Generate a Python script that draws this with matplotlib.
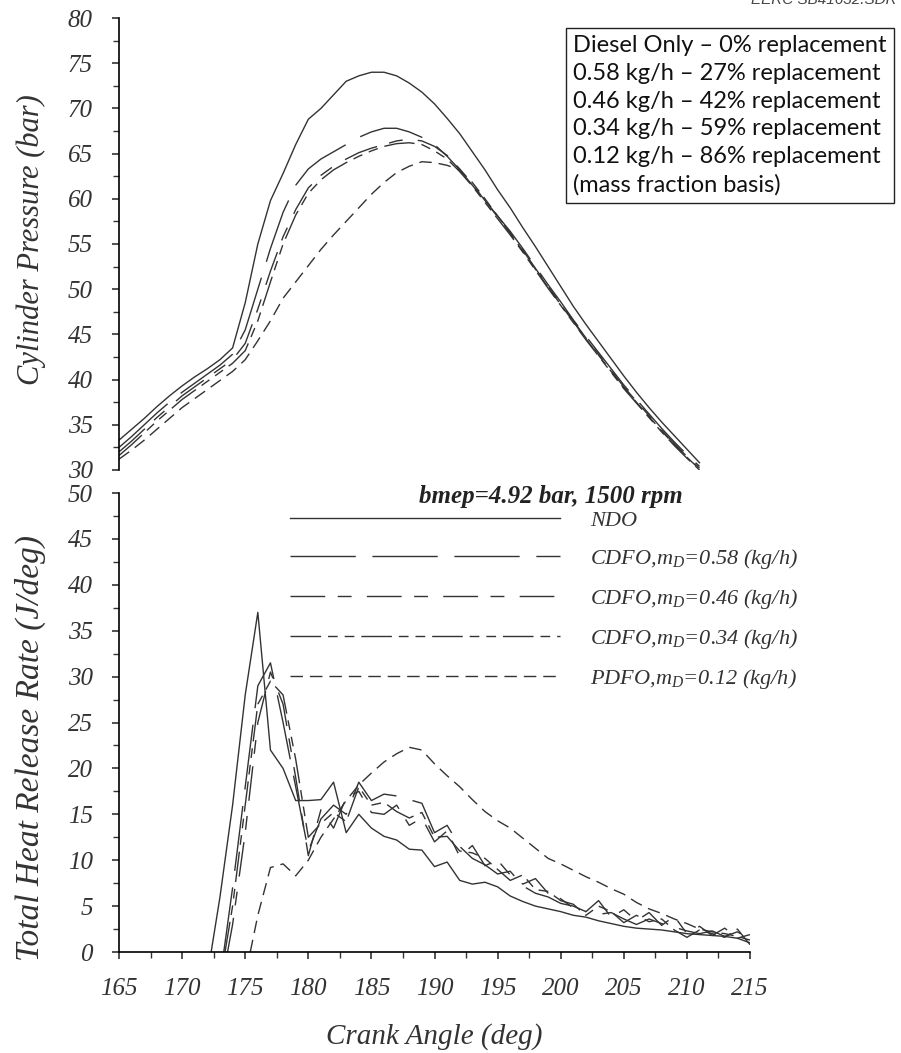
import matplotlib
matplotlib.use('Agg')
import matplotlib.pyplot as plt
import numpy as np
from matplotlib.ticker import MultipleLocator

plt.rcParams['font.family'] = ['Liberation Serif', 'DejaVu Serif']
plt.rcParams['mathtext.fontset'] = 'custom'
plt.rcParams['mathtext.it'] = 'Liberation Serif:italic'
plt.rcParams['mathtext.rm'] = 'Liberation Serif:italic'

INK = '#333333'

# cylinder pressure, 1 deg steps from 165 to 211 deg
ca_p = np.arange(165, 212)
p_ndo = [33.3, 34.5, 35.7, 37.0, 38.2, 39.3, 40.3, 41.2, 42.2, 43.5,
         48.5, 55.0, 59.8, 62.8, 66.0, 68.8, 70.0, 71.5, 73.0, 73.6,
         74.0, 74.0, 73.6, 72.8, 71.8, 70.5, 68.9, 67.2, 65.2, 63.2,
         61.0, 59.0, 56.8, 54.7, 52.5, 50.3, 48.1, 46.1, 44.2, 42.3,
         40.4, 38.6, 36.9, 35.3, 33.8, 32.3, 30.8]
p_058 = [32.5, 33.7, 35.0, 36.3, 37.5, 38.6, 39.6, 40.6, 41.6, 42.8,
         45.5, 50.0, 54.5, 58.5, 61.5, 63.3, 64.4, 65.2, 66.0, 66.8,
         67.4, 67.8, 67.8, 67.4, 66.8, 66.0, 64.7, 63.2, 61.5, 59.8,
         58.1, 56.4, 54.5, 52.5, 50.5, 48.6, 46.6, 44.8, 43.0, 41.2,
         39.4, 37.8, 36.2, 34.6, 33.1, 31.7, 30.4]
p_046 = [32.0, 33.2, 34.5, 35.8, 37.0, 38.2, 39.2, 40.2, 41.2, 42.2,
         44.0, 47.8, 52.0, 55.8, 58.8, 61.2, 62.6, 63.6, 64.4, 65.1,
         65.6, 66.0, 66.4, 66.6, 66.4, 65.8, 64.8, 63.3, 61.6, 59.8,
         58.0, 56.2, 54.3, 52.3, 50.3, 48.4, 46.5, 44.6, 42.8, 41.0,
         39.2, 37.6, 36.0, 34.4, 32.9, 31.5, 30.2]
p_034 = [31.6, 32.8, 34.1, 35.4, 36.6, 37.8, 38.8, 39.8, 40.8, 41.8,
         43.2, 46.5, 50.8, 55.0, 58.2, 60.6, 62.1, 63.2, 64.0, 64.7,
         65.3, 65.8, 66.1, 66.2, 66.0, 65.3, 64.4, 63.0, 61.4, 59.6,
         57.8, 56.0, 54.1, 52.1, 50.1, 48.2, 46.3, 44.4, 42.6, 40.8,
         39.0, 37.4, 35.8, 34.2, 32.7, 31.3, 30.0]
p_012 = [31.2, 32.2, 33.3, 34.5, 35.7, 36.9, 37.9, 38.9, 39.9, 40.9,
         42.2, 44.3, 46.5, 49.0, 50.8, 52.6, 54.4, 56.0, 57.5, 59.0,
         60.5, 61.8, 62.9, 63.6, 64.1, 64.0, 63.7, 63.2, 61.8, 60.0,
         58.1, 56.2, 54.2, 52.2, 50.2, 48.3, 46.4, 44.5, 42.7, 40.9,
         39.1, 37.5, 35.9, 34.3, 32.8, 31.4, 30.1]

# heat release rate (J/deg); first angle is the start of combustion
ca_hrr_ndo = [172.3] + list(range(173, 216))
hrr_ndo = [0, 6, 16, 28, 37, 22, 20, 16.5, 16.5, 16.6,
           18.5, 13, 15, 13.5, 12.6, 12.2, 11.2, 11.1, 9.3, 9.8,
           7.8, 7.4, 7.6, 7.1, 6.1, 5.5, 5.0, 4.7, 4.4, 4.0,
           3.8, 3.4, 3.1, 2.8, 2.6, 2.5, 2.4, 2.2, 2.0, 1.9,
           1.8, 1.7, 1.5, 1.0]
ca_hrr_058 = [173.3] + list(range(174, 216))
hrr_058 = [0, 7, 18, 29, 31.5, 25, 18, 11, 14.5, 16,
           15, 18.5, 16.5, 17.2, 17, 16.6, 16.2, 13, 13.8, 11.5,
           10.2, 9.5, 8.5, 8.8, 7.2, 6.4, 6.0, 5.3, 5.0, 4.4,
           4.1, 4.3, 3.6, 3.0, 3.6, 3.1, 2.7, 2.3, 2.0, 2.3,
           1.7, 2.2, 1.4]
ca_hrr_046 = [173.6] + list(range(174, 216))
hrr_046 = [0, 3, 13, 25, 30.5, 27, 19, 10.5, 15.5, 13.5,
           16.8, 17.5, 15.2, 15.0, 16.0, 13.8, 14.6, 12.0, 13.2, 10.4,
           11.6, 9.4, 10.0, 8.4, 7.4, 8.0, 6.4, 5.8, 4.8, 4.4,
           5.6, 3.8, 4.6, 3.4, 4.3, 2.9, 3.9, 2.0, 2.8, 1.8,
           2.6, 1.5, 1.9]
ca_hrr_034 = [173.4] + list(range(174, 216))
hrr_034 = [0, 5, 16, 27, 29.5, 28, 21, 12.5, 14.0, 15.2,
           14.2, 18.0, 16.0, 16.3, 15.3, 14.6, 15.2, 12.5, 12.6, 11.0,
           10.8, 10.2, 9.0, 7.8, 8.4, 6.8, 6.6, 5.6, 5.2, 4.0,
           5.0, 4.4, 3.2, 4.0, 3.3, 3.6, 2.4, 1.6, 2.4, 2.0,
           1.6, 2.5, 0.8]
ca_hrr_012 = [175.4] + list(range(176, 216))
hrr_012 = [0, 4, 9.2, 9.6, 8.3, 10.0, 12.5, 14.5, 16.5, 18.2,
           19.5, 20.7, 21.6, 22.3, 22.0, 20.5, 19.2, 18.0, 16.6, 15.3,
           14.3, 13.5, 12.4, 11.3, 10.2, 9.6, 8.9, 8.2, 7.6, 6.9,
           6.3, 5.4, 4.7, 4.2, 3.6, 3.1, 2.5, 2.2, 2.0, 1.7,
           1.3]

labels = ['NDO',
          'CDFO,$m_D$=0.58 (kg/h)',
          'CDFO,$m_D$=0.46 (kg/h)',
          'CDFO,$m_D$=0.34 (kg/h)',
          'PDFO,$m_D$=0.12 (kg/h)']
# dash patterns in points
styles = [None, (47, 12), (25, 9, 10, 11), (22, 5, 7, 5, 7, 5), (9, 5)]

replacement_lines = ['Diesel Only \u2013 0% replacement',
                     '0.58 kg/h \u2013 27% replacement',
                     '0.46 kg/h \u2013 42% replacement',
                     '0.34 kg/h \u2013 59% replacement',
                     '0.12 kg/h \u2013 86% replacement',
                     '(mass fraction basis)']

fig = plt.figure(figsize=(9.01, 10.53), dpi=100)
ax_p = fig.add_axes([0.1321, 0.5537, 0.7003, 0.4292])
ax_h = fig.add_axes([0.1321, 0.0959, 0.7003, 0.4359])

p_series = [p_ndo, p_058, p_046, p_034, p_012]
h_series = [(ca_hrr_ndo, hrr_ndo), (ca_hrr_058, hrr_058), (ca_hrr_046, hrr_046),
            (ca_hrr_034, hrr_034), (ca_hrr_012, hrr_012)]

for ys, (cx, hy), lab, ds in zip(p_series, h_series, labels, styles):
    kw = dict(color=INK, lw=1.0)
    if ds is not None:
        kw['dashes'] = ds
    ax_p.plot(ca_p, ys, **kw)
    ax_h.plot(cx, hy, label=lab, **kw)

tick_font = dict(family='Liberation Serif', style='italic', size=18)

for ax in (ax_p, ax_h):
    ax.set_xlim(165, 215)
    ax.spines['top'].set_visible(False)
    ax.spines['right'].set_visible(False)
    ax.spines['left'].set_linewidth(1.2)
    ax.spines['bottom'].set_linewidth(1.2)
    ax.yaxis.set_major_locator(MultipleLocator(5))
    ax.yaxis.set_minor_locator(MultipleLocator(2.5))
    ax.tick_params(axis='both', which='major', direction='out', length=5,
                   width=1.2, color=INK, pad=14)
    ax.tick_params(axis='both', which='minor', direction='out', length=4,
                   width=1.0, color=INK)
    for t in ax.get_yticklabels():
        t.set_fontproperties(tick_font)
        t.set_color(INK)

ax_p.set_ylim(30, 80)
ax_p.spines['bottom'].set_visible(False)
ax_p.set_xticks([])
ax_p.set_ylabel('Cylinder Pressure (bar)', fontsize=22, style='italic',
                color=INK)
ax_p.yaxis.set_label_coords(-0.115, 0.51)

ax_h.set_ylim(0, 50)
ax_h.xaxis.set_major_locator(MultipleLocator(5))
ax_h.xaxis.set_minor_locator(MultipleLocator(2.5))
for t in ax_h.get_xticklabels():
    t.set_fontproperties(tick_font)
    t.set_color(INK)
ax_h.set_xlabel('Crank Angle (deg)', fontsize=21, style='italic',
                color=INK, labelpad=16)
ax_h.set_ylabel('Total Heat Release Rate (J/deg)', fontsize=24,
                style='italic', color=INK)
ax_h.yaxis.set_label_coords(-0.115, 0.444)

ax_h.text(0.685, 0.992, 'bmep=4.92 bar, 1500 rpm', transform=ax_h.transAxes,
          ha='center', va='center', fontsize=18, style='italic',
          weight='bold', color='#222222')

leg = ax_h.legend(loc='upper left', bbox_to_anchor=(0.271, 0.962),
                  frameon=False, fontsize=16, handlelength=12.15,
                  handletextpad=1.35, labelspacing=0.72, borderpad=0,
                  borderaxespad=0)
for t in leg.get_texts():
    t.set_style('italic')
    t.set_color(INK)

fig.text(573 / 901, 1 - 35 / 1053, '\n'.join(replacement_lines),
         family=['Lato', 'DejaVu Sans'], fontsize=17, color='#111111',
         ha='left', va='top', linespacing=1.4,
         bbox=dict(boxstyle='square,pad=0.3', fc='white', ec='#222222',
                   lw=1.0))

fig.text(0.995, 1.0, 'EERC SB41632.SDR', family=['Liberation Sans'],
         style='italic', fontsize=11, color='#444444', ha='right',
         va='center')

fig.savefig('out.png', dpi=100)
